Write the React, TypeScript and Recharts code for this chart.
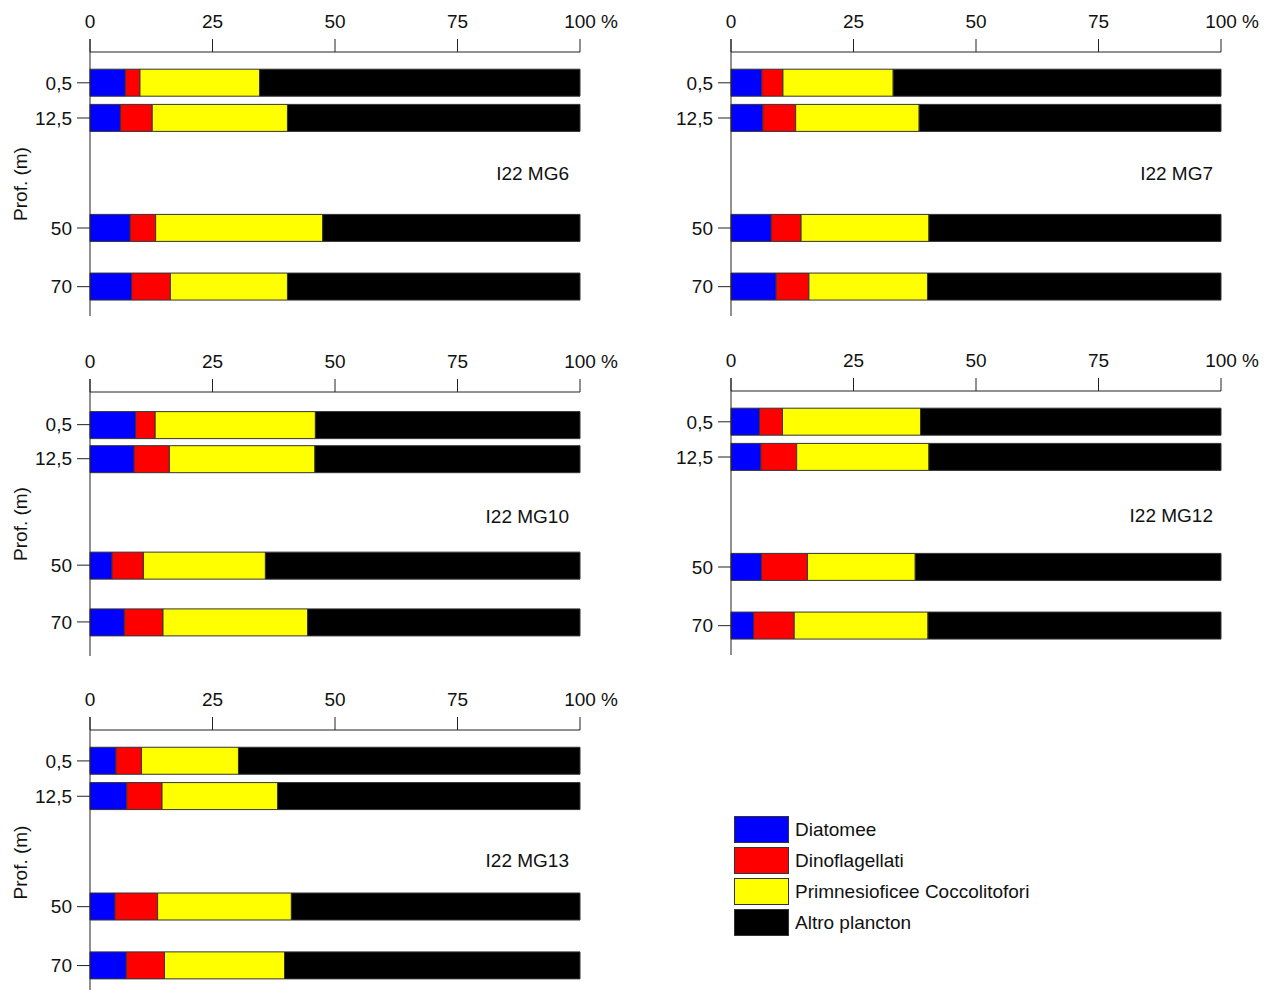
import React from "react";
import {
  BarChart,
  Bar,
  XAxis,
  YAxis,
  ReferenceLine,
} from "recharts";

const depths = [0.5, 12.5, 50, 70];
const stations = ["I22 MG6", "I22 MG7", "I22 MG10", "I22 MG12", "I22 MG13"];

// one row per station, values per depth (0,5 / 12,5 / 50 / 70 m), %
const diatomee = [
  [7.2, 6.2, 8.2, 8.5],
  [6.3, 6.5, 8.2, 9.2],
  [9.3, 9.0, 4.5, 7.0],
  [5.8, 6.1, 6.2, 4.6],
  [5.3, 7.5, 5.1, 7.4],
];
const dinoflagellati = [
  [3.0, 6.5, 5.2, 7.9],
  [4.3, 6.7, 6.1, 6.7],
  [4.0, 7.2, 6.4, 7.9],
  [4.7, 7.3, 9.4, 8.3],
  [5.2, 7.2, 8.7, 7.8],
];
const primnesioficee = [
  [24.4, 27.6, 34.1, 23.9],
  [22.5, 25.2, 26.1, 24.2],
  [32.7, 29.7, 24.9, 29.5],
  [28.2, 27.0, 22.0, 27.3],
  [19.8, 23.6, 27.3, 24.5],
];
const altro = [
  [65.4, 59.7, 52.5, 59.7],
  [66.9, 61.6, 59.6, 59.9],
  [54.0, 54.1, 64.2, 55.6],
  [61.3, 59.6, 62.4, 59.8],
  [69.7, 61.7, 58.9, 60.3],
];

const groupNames = [
  "Diatomee",
  "Dinoflagellati",
  "Primnesioficee Coccolitofori",
  "Altro plancton",
];
const groupKeys = ["dia", "dino", "prim", "altro"];
const groupColors = ["#0000ff", "#ff0000", "#ffff00", "#000000"];
const pctTicks = [0, 25, 50, 75, 100];

const FONT = "'Liberation Sans', Arial, sans-serif";
const FS = 19;
const INK = "#111";
const LINE = "#222";

// panel placement (left, top of the chart box) + depth domain
const panels = [
  { left: 0, top: 0, width: 640, domain: [-10, 80], plotH: 264, yLabel: true, titleRight: 569, titleY: 173.5 },
  { left: 641, top: 0, width: 627, domain: [-10, 80], plotH: 264, yLabel: false, titleRight: 1213, titleY: 173 },
  { left: 0, top: 340, width: 640, domain: [-11, 82], plotH: 264, yLabel: true, titleRight: 569, titleY: 516.5 },
  { left: 641, top: 339, width: 627, domain: [-10, 80], plotH: 264, yLabel: false, titleRight: 1213, titleY: 515 },
  { left: 0, top: 678, width: 640, domain: [-10, 80], plotH: 265, yLabel: true, titleRight: 569, titleY: 860 },
];

function PctTick({ x, y, payload }: any) {
  return (
    <g>
      <text x={x} y={y - 9} textAnchor="middle" fill={INK} fontSize={FS} fontFamily={FONT}>
        {payload.value}
      </text>
      {payload.value === 100 && (
        <text x={x + 21} y={y - 9} textAnchor="start" fill={INK} fontSize={FS} fontFamily={FONT}>
          %
        </text>
      )}
    </g>
  );
}

function Panel({ idx }: { idx: number }) {
  const p = panels[idx];
  const data = depths.map((d, i) => ({
    depth: d,
    dia: diatomee[idx][i],
    dino: dinoflagellati[idx][i],
    prim: primnesioficee[idx][i],
    altro: altro[idx][i],
  }));
  const pxPerUnit = p.plotH / (p.domain[1] - p.domain[0]);
  const height = 52 + p.plotH + 5;
  const plotRight = p.left + 90 + 490;
  return (
    <div style={{ position: "absolute", left: p.left, top: p.top }}>
      <BarChart
        width={p.width}
        height={height}
        data={data}
        layout="vertical"
        margin={{ top: 12, left: 10, right: p.left + p.width - plotRight, bottom: 5 }}
      >
        <XAxis
          type="number"
          orientation="top"
          domain={[0, 100]}
          ticks={pctTicks}
          height={40}
          tickSize={13}
          tickMargin={2}
          axisLine={{ stroke: LINE }}
          tickLine={{ stroke: LINE }}
          tick={<PctTick />}
        />
        <YAxis
          type="number"
          dataKey="depth"
          domain={p.domain}
          ticks={depths}
          width={80}
          tickSize={13}
          tickMargin={5}
          axisLine={{ stroke: LINE }}
          tickLine={{ stroke: LINE }}
          tick={{ fill: INK, fontSize: FS, fontFamily: FONT }}
          tickFormatter={(v) => String(v).replace(".", ",")}
          label={
            p.yLabel
              ? {
                  value: "Prof. (m)",
                  angle: -90,
                  position: "insideLeft",
                  offset: 10.5,
                  fill: INK,
                  fontSize: FS,
                  fontFamily: FONT,
                  style: { textAnchor: "middle" },
                }
              : undefined
          }
        />
        <ReferenceLine
          segment={[
            { x: 0, y: p.domain[0] - 13 / pxPerUnit },
            { x: 0, y: p.domain[0] },
          ]}
          stroke={LINE}
          ifOverflow="visible"
        />
        {groupKeys.map((k, i) => (
          <Bar
            key={k}
            dataKey={k}
            name={groupNames[i]}
            stackId="s"
            fill={groupColors[i]}
            stroke="#333"
            strokeWidth={1}
            barSize={27}
            isAnimationActive={false}
          />
        ))}
      </BarChart>
      <div
        style={{
          position: "absolute",
          right: p.left + p.width - p.titleRight,
          top: p.titleY - p.top - FS / 2,
          fontFamily: FONT,
          fontSize: FS,
          lineHeight: `${FS}px`,
          color: INK,
          whiteSpace: "nowrap",
        }}
      >
        {stations[idx]}
      </div>
    </div>
  );
}

export default function App() {
  return (
    <div
      style={{
        position: "absolute",
        left: 0,
        top: 0,
        width: 1268,
        height: 990,
        overflow: "hidden",
        background: "#fff",
        fontFamily: FONT,
      }}
    >
      {panels.map((_, i) => (
        <Panel key={i} idx={i} />
      ))}
      {groupNames.map((n, i) => (
        <div key={n}>
          <div
            style={{
              position: "absolute",
              left: 734,
              top: 816 + i * 31,
              width: 53,
              height: 25,
              background: groupColors[i],
              border: "1px solid #333",
            }}
          />
          <div
            style={{
              position: "absolute",
              left: 795,
              top: 816 + i * 31 + 13.5 - FS / 2,
              fontSize: FS,
              lineHeight: `${FS}px`,
              color: INK,
              whiteSpace: "nowrap",
            }}
          >
            {n}
          </div>
        </div>
      ))}
    </div>
  );
}
